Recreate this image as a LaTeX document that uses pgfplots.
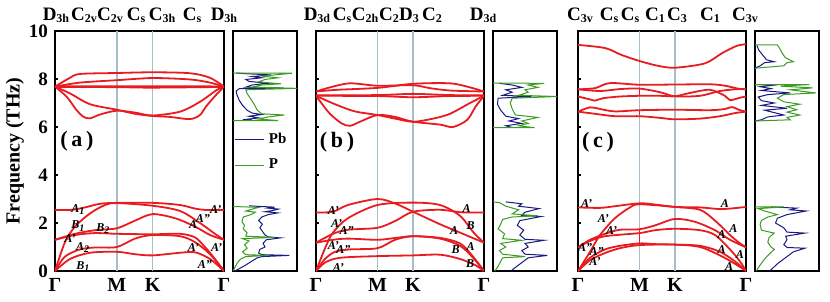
\documentclass[border=0pt]{standalone}
\usepackage{fontspec}
\setmainfont{Liberation Serif}
\usepackage{pgfplots}
\pgfplotsset{compat=1.18}
\definecolor{bandred}{RGB}{232,28,32}
\definecolor{kline}{RGB}{165,190,200}
\definecolor{pbblue}{RGB}{25,25,130}
\definecolor{pgreen}{RGB}{60,155,35}
\newcommand{\sub}[1]{\raisebox{-0.25ex}{\fontsize{6}{6}\selectfont #1}}
\pgfplotsset{
  bandax/.style={scale only axis, width=84pt, height=120pt, anchor=south west,
    xmin=0, xmax=1.5774, ymin=0, ymax=10,
    xtick={0,0.5774,0.9107,1.5774}, xticklabels={Γ,M,K,Γ},
    ytick={0,2,...,10}, tick align=inside, tick pos=left, major tick length=1.5pt,
    axis line style={line width=1pt}, tick style={line width=0.6pt, black},
    xticklabel style={font=\bfseries\fontsize{10}{12}\selectfont},
    yticklabel style={font=\bfseries\fontsize{9.5}{11}\selectfont},
    /pgf/number format/assume math mode=true, clip mode=individual},
  dosax/.style={scale only axis, width=32pt, height=120pt, anchor=south west,
    xmin=0, xmax=1, ymin=0, ymax=10, xtick=\empty, ytick=\empty,
    axis line style={line width=1pt}, clip mode=individual},
  band/.style={draw=bandred, line width=0.9pt, smooth, tension=0.5, mark=none},
  kl/.style={draw=kline, line width=0.8pt, mark=none},
  pb/.style={draw=pbblue, line width=0.5pt, mark=none},
  pp/.style={draw=pgreen, line width=0.5pt, mark=none},
}
\tikzset{
  lab/.style={font=\bfseries\itshape\fontsize{6}{6}\selectfont, inner sep=0pt},
  sym/.style={font=\bfseries\fontsize{9.5}{11}\selectfont, anchor=base, inner sep=0pt, yshift=5.5pt},
  plab/.style={font=\bfseries\fontsize{11}{13}\selectfont, inner sep=0pt},
}
\begin{document}
\begin{tikzpicture}
\useasboundingbox (0,0) rectangle (415pt,150.5pt);
%================ panel (a) =================
\begin{axis}[bandax, at={(27.5pt,15pt)}, width=84.5pt,
  ylabel={Frequency (THz)},
  every axis y label/.style={at={(axis description cs:-0.237,0.5)}, anchor=center, rotate=90,
    font=\bfseries\fontsize{10}{12}\selectfont}]
\addplot[kl] coordinates {(0.5774,0) (0.5774,10)};
\addplot[kl] coordinates {(0.9107,0) (0.9107,10)};
% optical
\addplot[band] coordinates {(0,7.68) (0.140,8.05) (0.233,8.21) (0.5774,8.25) (0.9107,8.28) (1.260,8.24) (1.447,8.05) (1.5774,7.68)};
\addplot[band] coordinates {(0,7.68) (0.233,7.85) (0.5774,7.95) (0.9107,8.04) (1.260,7.98) (1.447,7.85) (1.5774,7.68)};
\addplot[band] coordinates {(0,7.69) (0.5774,7.70) (0.9107,7.70) (1.5774,7.69)};
\addplot[band] coordinates {(0,7.67) (0.5774,7.66) (0.9107,7.64) (1.5774,7.67)};
\addplot[band] coordinates {(0,7.68) (0.109,7.26) (0.202,6.70) (0.264,6.43) (0.327,6.36) (0.420,6.52) (0.5774,6.68) (0.747,6.60) (0.9107,6.48) (1.167,6.64) (1.353,7.05) (1.509,7.54) (1.5774,7.68)};
\addplot[band] coordinates {(0,7.68) (0.140,7.40) (0.327,6.95) (0.5774,6.72) (0.747,6.55) (0.9107,6.46) (1.073,6.42) (1.260,6.33) (1.353,6.50) (1.409,6.85) (1.502,7.33) (1.5774,7.68)};
% acoustic
\addplot[band] coordinates {(0,2.54) (0.159,2.55) (0.280,2.65) (0.420,2.80) (0.5774,2.84) (0.9107,2.84) (1.167,2.75) (1.307,2.60) (1.419,2.54) (1.5774,2.54)};
\addplot[band] coordinates {(0,0) (0.093,1.20) (0.187,1.85) (0.327,2.40) (0.467,2.75) (0.5774,2.83) (0.9107,2.72) (1.167,2.50) (1.353,2.00) (1.493,1.55) (1.5774,1.30)};
\addplot[band] coordinates {(0,1.30) (0.187,1.55) (0.373,1.70) (0.5774,1.78) (0.747,2.10) (0.9107,2.37) (1.120,2.20) (1.307,1.85) (1.447,1.50) (1.5774,1.30)};
\addplot[band] coordinates {(0,1.30) (0.187,1.50) (0.373,1.58) (0.5774,1.55) (0.9107,1.53) (1.167,1.55) (1.307,1.40) (1.400,1.00) (1.493,0.50) (1.5774,0)};
\addplot[band] coordinates {(0,0) (0.093,0.60) (0.233,0.90) (0.373,0.98) (0.5774,1.00) (0.747,1.35) (0.9107,1.50) (1.167,1.45) (1.307,1.20) (1.447,0.70) (1.5774,0)};
\addplot[band] coordinates {(0,0) (0.140,0.50) (0.327,0.76) (0.5774,0.80) (0.747,0.70) (0.9107,0.65) (1.167,0.76) (1.307,0.78) (1.447,0.50) (1.5774,0)};
% labels
\node[plab] at (axis cs:0.205,5.42) {(\,a\,)};
\node[lab] at (axis cs:0.218,2.57) {A\textsubscript{1}};
\node[lab] at (axis cs:0.218,1.875) {B\textsubscript{1}};
\node[lab] at (axis cs:0.451,1.76) {B\textsubscript{2}};
\node[lab] at (axis cs:0.140,1.36) {A'};
\node[lab] at (axis cs:0.262,0.98) {A\textsubscript{2}};
\node[lab] at (axis cs:0.264,0.18) {B\textsubscript{1}};
\node[lab] at (axis cs:1.500,2.55) {A'};
\node[lab] at (axis cs:1.380,2.20) {A''};
\node[lab] at (axis cs:1.290,1.95) {A};
\node[lab] at (axis cs:1.291,0.98) {A'};
\node[lab] at (axis cs:1.509,0.98) {A'};
\node[lab] at (axis cs:1.400,0.25) {A''};
\node[sym] at (axis cs:0.009,10) {D\sub{3h}};
\node[sym] at (axis cs:0.271,10) {C\sub{2v}};
\node[sym] at (axis cs:0.513,10) {C\sub{2v}};
\node[sym] at (axis cs:0.756,10) {C\sub{s}};
\node[sym] at (axis cs:0.999,10) {C\sub{3h}};
\node[sym] at (axis cs:1.279,10) {C\sub{s}};
\node[sym] at (axis cs:1.577,10) {D\sub{3h}};
\end{axis}
%================ DOS (a) =================
\begin{axis}[dosax, at={(116.5pt,15pt)},
  legend style={at={(axis cs:0.02,5.95)}, anchor=north west, draw=none, fill=none,
    font=\bfseries\fontsize{7.5}{9}\selectfont, inner sep=0pt, row sep=2.5pt, cells={anchor=west}},
  legend image code/.code={\draw[#1, line width=0.6pt] (0pt,0pt) -- (14.5pt,0pt);}]
\addplot[pb] coordinates {(0.03,0) (0.10,0.10) (0.20,0.25) (0.30,0.42) (0.38,0.55) (0.45,0.60) (0.88,0.65) (0.45,0.68) (0.40,0.75) (0.42,0.90) (0.50,1.00) (0.47,1.15) (0.52,1.30) (0.74,1.38) (0.55,1.42) (0.50,1.50) (0.46,1.65) (0.42,1.80) (0.46,1.95) (0.40,2.10) (0.45,2.25) (0.55,2.35) (0.70,2.42) (0.50,2.47) (0.62,2.52) (0.71,2.58) (0.55,2.62) (0.65,2.66) (0.35,2.70) (0.25,2.72)};
\addlegendentry{Pb}
\addplot[pp] coordinates {(0,0) (0.03,0.15) (0.07,0.35) (0.12,0.50) (0.20,0.60) (0.55,0.65) (0.20,0.68) (0.15,0.80) (0.22,0.95) (0.18,1.10) (0.25,1.25) (0.15,1.35) (0.65,1.40) (0.20,1.45) (0.22,1.60) (0.16,1.75) (0.18,1.90) (0.14,2.05) (0.16,2.25) (0.28,2.35) (0.35,2.45) (0.20,2.50) (0.30,2.58) (0.40,2.65) (0,2.69)};
\addlegendentry{P}
\addplot[pb, forget plot] coordinates {(0.30,6.28) (0.15,6.30) (0.40,6.38) (0.25,6.45) (0.45,6.52) (0.30,6.58) (0.22,6.70) (0.15,6.90) (0.10,7.10) (0.06,7.35) (0.05,7.50) (0.10,7.60) (0.80,7.62) (0.20,7.66) (0.30,7.75) (0.55,7.82) (0.25,7.90) (0.20,7.98) (0.45,8.05) (0.30,8.10) (0.60,8.17) (0.20,8.22) (0.05,8.25)};
\addplot[pp, forget plot] coordinates {(0,6.27) (0.70,6.27) (0.40,6.33) (0.55,6.42) (0.80,6.50) (0.45,6.55) (0.38,6.70) (0.33,6.95) (0.27,7.20) (0.22,7.40) (0.20,7.55) (1.00,7.61) (0.30,7.66) (0.45,7.75) (0.75,7.80) (0.40,7.88) (0.50,7.98) (0.70,8.05) (0.45,8.12) (0.92,8.24) (0,8.25)};
\end{axis}
%================ panel (b) =================
\begin{axis}[bandax, at={(158pt,15pt)}, yticklabels={}]
\addplot[kl] coordinates {(0.5774,0) (0.5774,10)};
\addplot[kl] coordinates {(0.9107,0) (0.9107,10)};
\addplot[band] coordinates {(0,7.48) (0.131,7.65) (0.319,7.82) (0.5774,7.72) (0.9107,7.74) (1.070,7.62) (1.258,7.52) (1.5774,7.48)};
\addplot[band] coordinates {(0,7.48) (0.200,7.55) (0.5774,7.63) (0.9107,7.80) (1.258,7.82) (1.446,7.65) (1.5774,7.48)};
\addplot[band] coordinates {(0,7.32) (0.5774,7.33) (0.9107,7.38) (1.258,7.33) (1.5774,7.32)};
\addplot[band] coordinates {(0,7.30) (0.5774,7.29) (0.9107,7.24) (1.258,7.29) (1.5774,7.30)};
\addplot[band] coordinates {(0,7.30) (0.050,7.00) (0.131,6.55) (0.241,6.15) (0.319,6.05) (0.413,6.22) (0.5774,6.50) (0.742,6.42) (0.9107,6.22) (1.164,6.10) (1.286,6.00) (1.420,6.30) (1.500,6.86) (1.5774,7.30)};
\addplot[band] coordinates {(0,7.30) (0.178,6.95) (0.366,6.65) (0.5774,6.50) (0.742,6.35) (0.9107,6.22) (1.100,6.35) (1.258,6.55) (1.446,7.00) (1.5774,7.30)};
\addplot[band] coordinates {(0,2.44) (0.160,2.47) (0.300,2.75) (0.5774,3.00) (0.750,2.80) (0.9107,2.47) (1.164,1.95) (1.352,1.60) (1.5774,1.18)};
\addplot[band] coordinates {(0,0) (0.090,1.00) (0.160,1.60) (0.300,2.20) (0.5774,2.75) (0.9107,2.85) (1.164,2.75) (1.352,2.30) (1.480,1.60) (1.5774,1.18)};
\addplot[band] coordinates {(0,1.18) (0.160,1.55) (0.300,1.72) (0.5774,1.80) (0.750,2.10) (0.9107,2.47) (1.164,2.55) (1.352,2.45) (1.450,2.44) (1.5774,2.44)};
\addplot[band] coordinates {(0,1.18) (0.160,1.30) (0.300,1.35) (0.5774,1.30) (0.750,1.38) (0.9107,1.45) (1.164,1.38) (1.352,1.15) (1.465,0.65) (1.5774,0)};
\addplot[band] coordinates {(0,0) (0.0845,0.50) (0.178,0.80) (0.319,0.90) (0.5774,0.95) (0.742,1.30) (0.9107,1.45) (1.164,1.35) (1.352,1.05) (1.465,0.60) (1.5774,0)};
\addplot[band] coordinates {(0,0) (0.0845,0.35) (0.225,0.55) (0.5774,0.62) (0.9107,0.65) (1.164,0.68) (1.352,0.50) (1.493,0.25) (1.5774,0)};
\node[plab] at (axis cs:0.197,5.35) {(\,b\,)};
\node[lab] at (axis cs:0.163,2.53) {A'};
\node[lab] at (axis cs:0.194,1.99) {A'};
\node[lab] at (axis cs:0.288,1.68) {A''};
\node[lab] at (axis cs:0.163,1.08) {A'};
\node[lab] at (axis cs:0.256,0.875) {A''};
\node[lab] at (axis cs:0.210,0.15) {A'};
\node[lab] at (axis cs:1.415,2.62) {A};
\node[lab] at (axis cs:1.452,1.875) {B};
\node[lab] at (axis cs:1.296,1.68) {A};
\node[lab] at (axis cs:1.452,1.04) {A};
\node[lab] at (axis cs:1.311,0.875) {B};
\node[lab] at (axis cs:1.446,0.29) {B};
\node[sym] at (axis cs:0.009,10) {D\sub{3d}};
\node[sym] at (axis cs:0.244,10) {C\sub{s}};
\node[sym] at (axis cs:0.460,10) {C\sub{2h}};
\node[sym] at (axis cs:0.685,10) {C\sub{2}};
\node[sym] at (axis cs:0.873,10) {D\sub{3}};
\node[sym] at (axis cs:1.089,10) {C\sub{2}};
\node[sym] at (axis cs:1.568,10) {D\sub{3d}};
\end{axis}
%================ DOS (b) =================
\begin{axis}[dosax, at={(246.5pt,15pt)}]
\addplot[pb] coordinates {(0.28,0) (0.35,0.15) (0.45,0.35) (0.55,0.55) (0.85,0.65) (0.50,0.70) (0.45,0.85) (0.55,1.00) (0.50,1.15) (0.80,1.28) (0.50,1.32) (0.42,1.50) (0.48,1.70) (0.38,1.90) (0.42,2.10) (0.75,2.27) (0.45,2.32) (0.50,2.45) (0.72,2.60) (0.40,2.70) (0.45,2.80) (0.20,2.88)};
\addplot[pp] coordinates {(0.03,0) (0.08,0.20) (0.12,0.40) (0.15,0.55) (0.50,0.60) (0.15,0.70) (0.10,0.85) (0.20,1.00) (0.12,1.15) (0.45,1.28) (0.15,1.35) (0.18,1.55) (0.08,1.75) (0.12,1.95) (0.15,2.15) (0.30,2.25) (0.70,2.30) (0.30,2.38) (0.40,2.55) (0.20,2.70) (0.10,2.85) (0,2.88)};
\addplot[pb] coordinates {(0.30,5.98) (0.20,6.05) (0.45,6.15) (0.25,6.25) (0.40,6.35) (0.20,6.45) (0.12,6.70) (0.07,6.95) (0.08,7.20) (0.60,7.27) (0.15,7.32) (0.30,7.45) (0.20,7.55) (0.45,7.65) (0.30,7.75) (0.10,7.82)};
\addplot[pp] coordinates {(0,5.97) (0.65,5.97) (0.40,6.05) (0.55,6.15) (0.45,6.25) (0.70,6.40) (0.35,6.50) (0.30,6.75) (0.27,7.00) (0.30,7.20) (1.00,7.27) (0.40,7.32) (0.55,7.45) (0.50,7.55) (0.70,7.65) (0.55,7.75) (0.80,7.82) (0,7.83)};
\end{axis}
%================ panel (c) =================
\begin{axis}[bandax, at={(289pt,15pt)}, yticklabels={}]
\addplot[kl] coordinates {(0.5774,0) (0.5774,10)};
\addplot[kl] coordinates {(0.9107,0) (0.9107,10)};
\addplot[band] coordinates {(0,9.42) (0.254,9.29) (0.410,9.00) (0.5774,8.75) (0.750,8.55) (0.9107,8.47) (1.190,8.65) (1.350,9.07) (1.490,9.38) (1.5774,9.45)};
\addplot[band] coordinates {(0,7.57) (0.160,7.62) (0.300,7.83) (0.5774,7.76) (0.9107,7.77) (1.239,7.78) (1.380,7.72) (1.502,7.60) (1.5774,7.57)};
\addplot[band] coordinates {(0,7.57) (0.207,7.50) (0.394,7.58) (0.5774,7.60) (0.770,7.45) (0.9107,7.28) (1.145,7.30) (1.333,7.50) (1.502,7.58) (1.5774,7.57)};
\addplot[band] coordinates {(0,7.27) (0.113,7.15) (0.160,7.10) (0.235,7.20) (0.394,7.27) (0.5774,7.30) (0.770,7.30) (0.9107,7.28) (1.052,7.42) (1.239,7.55) (1.380,7.30) (1.427,7.12) (1.521,7.22) (1.5774,7.27)};
\addplot[band] coordinates {(0,6.64) (0.113,6.82) (0.207,6.75) (0.347,6.65) (0.5774,6.70) (0.9107,6.72) (1.239,6.70) (1.380,6.75) (1.446,6.83) (1.521,6.70) (1.5774,6.64)};
\addplot[band] coordinates {(0,6.64) (0.160,6.55) (0.347,6.45) (0.5774,6.45) (0.770,6.38) (0.9107,6.32) (1.145,6.35) (1.333,6.45) (1.474,6.58) (1.5774,6.64)};
\addplot[band] coordinates {(0,2.65) (0.207,2.63) (0.347,2.70) (0.5774,2.82) (0.723,2.77) (0.9107,2.67) (1.145,2.65) (1.333,2.58) (1.474,2.62) (1.5774,2.67)};
\addplot[band] coordinates {(0,0) (0.113,0.80) (0.207,1.50) (0.347,2.20) (0.488,2.65) (0.5774,2.78) (0.9107,2.67) (1.145,2.55) (1.286,2.10) (1.427,1.50) (1.521,1.15) (1.5774,0.99)};
\addplot[band] coordinates {(0,0.99) (0.113,1.30) (0.254,1.55) (0.394,1.72) (0.5774,1.74) (0.723,1.90) (0.9107,2.17) (1.098,2.05) (1.286,1.70) (1.427,1.30) (1.5774,0.99)};
\addplot[band] coordinates {(0,0.99) (0.113,1.25) (0.254,1.45) (0.5774,1.58) (0.723,1.70) (0.9107,1.76) (1.145,1.70) (1.286,1.50) (1.427,0.90) (1.521,0.40) (1.5774,0)};
\addplot[band] coordinates {(0,0) (0.113,0.55) (0.254,0.90) (0.394,1.05) (0.5774,1.15) (0.723,1.12) (0.9107,1.10) (1.145,1.05) (1.333,0.80) (1.474,0.40) (1.5774,0)};
\addplot[band] coordinates {(0,0) (0.113,0.45) (0.254,0.75) (0.394,0.95) (0.5774,1.08) (0.9107,1.10) (1.145,1.00) (1.333,0.65) (1.474,0.30) (1.5774,0)};
\addplot[draw=bandred, line width=0.7pt] coordinates {(0.5774,1.15) (0.5774,1.71)};
\addplot[draw=bandred, line width=0.7pt] coordinates {(0.5774,7.30) (0.5774,7.57)};
\addplot[draw=bandred, line width=0.7pt] coordinates {(0.5774,6.48) (0.5774,6.70)};
\node[plab] at (axis cs:0.188,5.35) {(\,c\,)};
\node[lab] at (axis cs:0.081,2.82) {A'};
\node[lab] at (axis cs:0.238,2.20) {A'};
\node[lab] at (axis cs:0.316,1.67) {A'};
\node[lab] at (axis cs:0.066,0.97) {A''};
\node[lab] at (axis cs:0.175,0.81) {A''};
\node[lab] at (axis cs:0.160,0.39) {A'};
\node[lab] at (axis cs:1.380,2.82) {A};
\node[lab] at (axis cs:1.458,1.78) {A};
\node[lab] at (axis cs:1.349,1.50) {A};
\node[lab] at (axis cs:1.349,0.875) {A};
\node[lab] at (axis cs:1.521,0.70) {A};
\node[lab] at (axis cs:1.420,0.18) {A};
\node[sym] at (axis cs:0.019,10) {C\sub{3v}};
\node[sym] at (axis cs:0.291,10) {C\sub{s}};
\node[sym] at (axis cs:0.488,10) {C\sub{s}};
\node[sym] at (axis cs:0.723,10) {C\sub{1}};
\node[sym] at (axis cs:0.930,10) {C\sub{3}};
\node[sym] at (axis cs:1.239,10) {C\sub{1}};
\node[sym] at (axis cs:1.568,10) {C\sub{3v}};
\end{axis}
%================ DOS (c) =================
\begin{axis}[dosax, at={(377.5pt,15pt)}]
\addplot[pb] coordinates {(0.03,9.40) (0.06,9.20) (0.12,9.00) (0.18,8.80) (0.30,8.72) (0.15,8.68) (0.08,8.55) (0,8.45)};
\addplot[pp] coordinates {(0,9.42) (0.35,9.42) (0.38,9.30) (0.42,9.10) (0.47,8.90) (0.60,8.72) (0.50,8.68) (0.45,8.55) (0,8.45)};
\addplot[pb] coordinates {(0,7.77) (0.35,7.76) (0.08,7.68) (0.25,7.60) (0.10,7.52) (0.55,7.42) (0.20,7.35) (0.05,7.25) (0.10,7.10) (0.30,7.00) (0.10,6.90) (0.50,6.78) (0.15,6.70) (0.30,6.60) (0.45,6.50) (0.20,6.42) (0.10,6.30) (0,6.25)};
\addplot[pp] coordinates {(0,7.77) (0.85,7.77) (0.40,7.70) (0.90,7.63) (0.55,7.55) (0.95,7.42) (0.45,7.35) (0.35,7.20) (0.45,7.05) (0.70,6.95) (0.50,6.85) (0.65,6.72) (0.50,6.62) (0.70,6.50) (0.50,6.40) (0.55,6.30) (0,6.25)};
\addplot[pb] coordinates {(0.23,0) (0.35,0.30) (0.50,0.60) (0.60,0.80) (0.78,0.95) (0.50,0.98) (0.45,1.10) (0.50,1.30) (0.48,1.45) (0.78,1.58) (0.50,1.62) (0.45,1.80) (0.32,2.00) (0.35,2.20) (0.50,2.35) (0.80,2.50) (0.55,2.55) (0.65,2.62) (0.25,2.67)};
\addplot[pp] coordinates {(0.02,0) (0.08,0.25) (0.15,0.50) (0.22,0.70) (0.30,0.90) (0.25,1.00) (0.20,1.20) (0.22,1.40) (0.30,1.58) (0.10,1.70) (0.08,1.95) (0.10,2.10) (0.20,2.25) (0.35,2.35) (0.15,2.50) (0.05,2.60) (0.45,2.67) (0,2.67)};
\end{axis}
\end{tikzpicture}
\end{document}
